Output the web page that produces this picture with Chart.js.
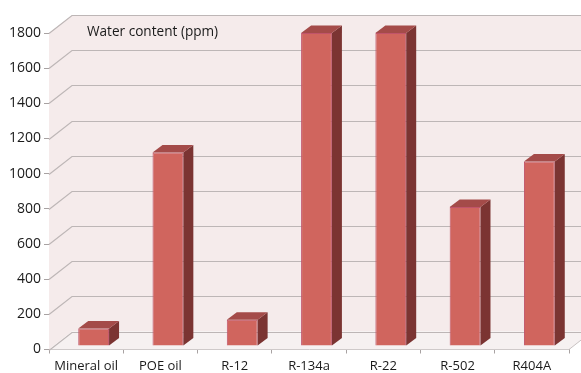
<!DOCTYPE html>
<html>
<head>
<meta charset="utf-8">
<script src="https://cdn.jsdelivr.net/npm/chart.js@4/dist/chart.umd.min.js"></script>
<style>
  html, body { margin: 0; padding: 0; background: #ffffff; }
  #wrap { width: 581px; height: 373px; position: relative; }
</style>
</head>
<body>
<div id="wrap"><canvas id="c" width="581" height="373"></canvas></div>
<script>
// Water content by oil / refrigerant
const categories = ['Mineral oil', 'POE oil', 'R-12', 'R-134a', 'R-22', 'R-502', 'R404A'];
const waterPpm = [100, 1100, 150, 1780, 1780, 790, 1050];
const yTicks = [0, 200, 400, 600, 800, 1000, 1200, 1400, 1600, 1800];
const chartTitle = 'Water content (ppm)';

const FONT = '"Open Sans", "DejaVu Sans", sans-serif';

// depth of the 3D box (walls) and of each bar
const WALL_DX = 23, WALL_DY = 18;
const FACE_DX = 7.5, FACE_DY = 3.5;
const BAR_DX = 10, BAR_DY = 7.5;

const wallPlugin = {
  id: 'wall3d',
  beforeDatasetsDraw(chart) {
    const { ctx, chartArea: a, scales } = chart;
    const y = scales.y;
    ctx.save();
    // side wall + back wall
    ctx.fillStyle = '#f5ebeb';
    ctx.beginPath();
    ctx.moveTo(a.left, a.bottom);
    ctx.lineTo(a.left, a.top);
    ctx.lineTo(a.left + WALL_DX, a.top - WALL_DY);
    ctx.lineTo(a.right + WALL_DX, a.top - WALL_DY);
    ctx.lineTo(a.right + WALL_DX, a.bottom - WALL_DY);
    ctx.lineTo(a.left + WALL_DX, a.bottom - WALL_DY);
    ctx.closePath();
    ctx.fill();
    // floor
    ctx.fillStyle = '#f6f1f1';
    ctx.beginPath();
    ctx.moveTo(a.left, a.bottom);
    ctx.lineTo(a.right, a.bottom);
    ctx.lineTo(a.right + WALL_DX, a.bottom - WALL_DY);
    ctx.lineTo(a.left + WALL_DX, a.bottom - WALL_DY);
    ctx.closePath();
    ctx.fill();
    ctx.strokeStyle = '#c8c2c2';
    ctx.lineWidth = 1;
    ctx.beginPath();
    ctx.moveTo(a.right, a.bottom);
    ctx.lineTo(a.right + WALL_DX, a.bottom - WALL_DY);
    ctx.stroke();
    // gridlines on side and back wall
    ctx.strokeStyle = '#bdb6b6';
    ctx.lineWidth = 1.2;
    yTicks.forEach(v => {
      const py = Math.round(y.getPixelForValue(v)) + 0.5;
      ctx.beginPath();
      ctx.moveTo(a.left, py);
      ctx.lineTo(a.left + WALL_DX, py - WALL_DY);
      ctx.lineTo(a.right + WALL_DX, py - WALL_DY);
      ctx.stroke();
    });
    // title inside the plot
    ctx.fillStyle = '#1a1a1a';
    ctx.font = '13.6px ' + FONT;
    ctx.textBaseline = 'middle';
    ctx.textAlign = 'left';
    ctx.fillText(chartTitle, 87, 32);
    ctx.restore();

    // bars sit slightly behind the front plane
    ctx.save();
    ctx.translate(FACE_DX, -FACE_DY);
  },
  afterDatasetsDraw(chart) {
    const { ctx } = chart;
    const meta = chart.getDatasetMeta(0);
    meta.data.forEach(bar => {
      const p = bar.getProps(['x', 'y', 'base', 'width'], true);
      const l = p.x - p.width / 2, r = p.x + p.width / 2;
      const t = p.y, b = p.base;
      // right side face
      ctx.fillStyle = '#7b3432';
      ctx.beginPath();
      ctx.moveTo(r, t);
      ctx.lineTo(r + BAR_DX, t - BAR_DY);
      ctx.lineTo(r + BAR_DX, b - BAR_DY);
      ctx.lineTo(r, b);
      ctx.closePath();
      ctx.fill();
      // top face
      ctx.fillStyle = '#a44b49';
      ctx.beginPath();
      ctx.moveTo(l, t);
      ctx.lineTo(l + BAR_DX, t - BAR_DY);
      ctx.lineTo(r + BAR_DX, t - BAR_DY);
      ctx.lineTo(r, t);
      ctx.closePath();
      ctx.fill();
    });
    ctx.restore();
  }
};

new Chart(document.getElementById('c'), {
  type: 'bar',
  data: {
    labels: categories,
    datasets: [{
      data: waterPpm,
      backgroundColor: '#d0655e',
      borderColor: '#c0546a',
      borderWidth: 1,
      categoryPercentage: 1,
      barPercentage: 0.415,
      clip: false
    }]
  },
  options: {
    responsive: false,
    animation: false,
    events: [],
    layout: { padding: { top: 33, right: 12, left: 0, bottom: 0 } },
    plugins: { legend: { display: false }, title: { display: false }, tooltip: { enabled: false } },
    scales: {
      x: {
        grid: { display: true, drawOnChartArea: false, drawTicks: true, tickLength: 4, color: '#a8a2a2', offset: true },
        border: { display: true, color: '#a8a2a2', width: 1 },
        ticks: { color: '#1a1a1a', font: { family: FONT, size: 13 }, padding: 5, maxRotation: 0, autoSkip: false },
        afterFit(s) { s.height = 23.5; }
      },
      y: {
        min: 0, max: 1800,
        afterBuildTicks(s) { s.ticks = yTicks.map(v => ({ value: v })); },
        grid: { display: true, drawOnChartArea: false, drawTicks: true, tickLength: 5, color: '#a8a2a2' },
        border: { display: true, color: '#a8a2a2', width: 1 },
        ticks: { color: '#1a1a1a', font: { family: FONT, size: 14 }, padding: 3, callback: v => String(v) },
        afterFit(s) { s.width = 49; }
      }
    }
  },
  plugins: [wallPlugin]
});
</script>
</body>
</html>
